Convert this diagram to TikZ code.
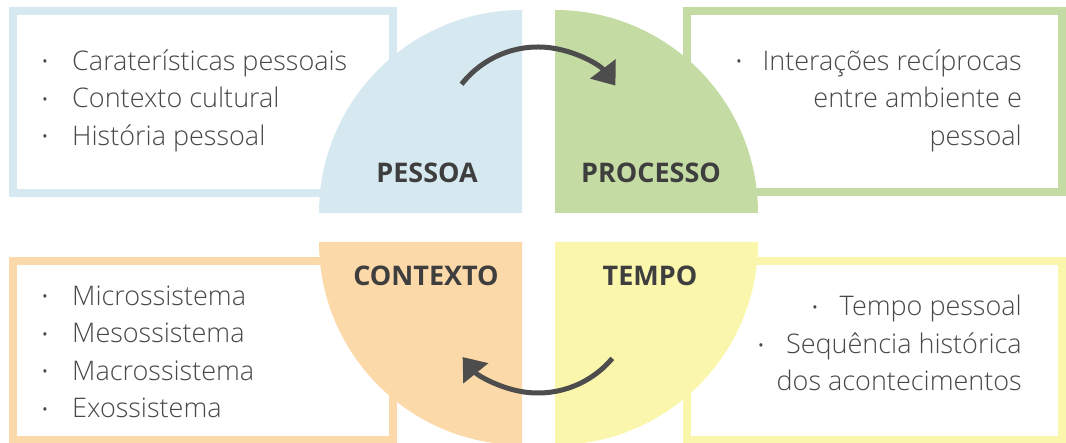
\documentclass[tikz,border=0pt]{standalone}
\usepackage{fontspec}
\setmainfont{Open Sans}
\IfFontExistsTF{Open Sans Light}{\newfontfamily\lightfont{Open Sans Light}}{\newfontfamily\lightfont{Open Sans}}
\usetikzlibrary{arrows.meta}

\definecolor{pessoacol}{RGB}{214,233,240}
\definecolor{processocol}{RGB}{196,220,163}
\definecolor{contextocol}{RGB}{252,217,168}
\definecolor{tempocol}{RGB}{250,246,172}
\definecolor{inkcol}{RGB}{77,77,77}
\definecolor{textcol}{RGB}{72,72,72}

\tikzset{
  framebox/.style={line width=8pt},
  headtext/.style={font=\bfseries\fontsize{27}{32}\selectfont, text=inkcol!80!black, inner sep=0pt, anchor=base},
  itemtext/.style={font=\lightfont\fontsize{27}{32}\selectfont, text=textcol, inner sep=0pt},
  itemdot/.style={font=\fontsize{14}{14}\selectfont, text=textcol, inner sep=0pt},
  cyclearrow/.style={line width=5pt, draw=inkcol, -{Triangle[length=21pt,width=31pt]}}
}

\begin{document}
\begin{tikzpicture}[x=1pt, y=1pt]
            \useasboundingbox (0,0) rectangle (1066,443);

            % frames behind the quarters
            \draw[framebox, pessoacol] (13,432) rectangle (393,250);
            \draw[framebox, processocol] (687,432) rectangle (1062,251);
            \draw[framebox, contextocol] (13,182) rectangle (393,3);
            \draw[framebox, tempocol] (687,182) rectangle (1062,3);

            % the four quarters
            \fill[pessoacol] (522,230) -- (319,230) arc[start angle=180, end angle=90, radius=203] -- cycle;
            \fill[processocol] (555,230) -- (555,433) arc[start angle=90, end angle=0, radius=203] -- cycle;
            \fill[contextocol] (522,201) -- (319,201) arc[start angle=180, end angle=270, radius=203] -- cycle;
            \fill[tempocol] (555,201) -- (758,201) arc[start angle=0, end angle=-90, radius=203] -- cycle;

            \draw[cyclearrow] (538,299) ++(142:97) arc[start angle=142, end angle=37, radius=97];
            \draw[cyclearrow] (538,147) ++(-40:97) arc[start angle=-40, end angle=-141, radius=97];

            \node[headtext] (pessoa) at (427,260) {PESSOA};
            \node[headtext] (processo) at (651,260) {PROCESSO};
            \node[headtext] (contexto) at (426,157) {CONTEXTO};
            \node[headtext] (tempo) at (650,157) {TEMPO};

            % pessoa
            \node[itemtext, anchor=base west] (carat) at (72,372.5) {Caraterísticas pessoais};
            \node[itemtext, anchor=base west] (cultural) at (72,335) {Contexto cultural};
            \node[itemtext, anchor=base west] (historia) at (72,297.5) {História pessoal};
            \node[itemdot] (carat-dot) at (45,379.5) {•};
            \node[itemdot] (cultural-dot) at (45,342) {•};
            \node[itemdot] (historia-dot) at (45,304.5) {•};

            % processo
            \node[itemtext, anchor=base east] (inter1) at (1022,372.5) {Interações recíprocas};
            \node[itemtext, anchor=base east] (inter2) at (1022,335) {entre ambiente e};
            \node[itemtext, anchor=base east] (inter3) at (1022,297.5) {pessoal};
            \node[itemdot] (inter-dot) at (739,379.5) {•};

            % contexto
            \node[itemtext, anchor=base west] (micro) at (72,137.5) {Microssistema};
            \node[itemtext, anchor=base west] (meso) at (72,100) {Mesossistema};
            \node[itemtext, anchor=base west] (macro) at (72,62.5) {Macrossistema};
            \node[itemtext, anchor=base west] (exo) at (72,25) {Exossistema};
            \node[itemdot] (micro-dot) at (45,144.5) {•};
            \node[itemdot] (meso-dot) at (45,107) {•};
            \node[itemdot] (macro-dot) at (45,69.5) {•};
            \node[itemdot] (exo-dot) at (45,32) {•};

            % tempo
            \node[itemtext, anchor=base east] (pessoal) at (1022,127) {Tempo pessoal};
            \node[itemtext, anchor=base east] (seq1) at (1022,89) {Sequência histórica};
            \node[itemtext, anchor=base east] (seq2) at (1022,52) {dos acontecimentos};
            \node[itemdot] (pessoal-dot) at (815,134) {•};
            \node[itemdot] (seq-dot) at (761,96) {•};
        \end{tikzpicture}
\end{document}
